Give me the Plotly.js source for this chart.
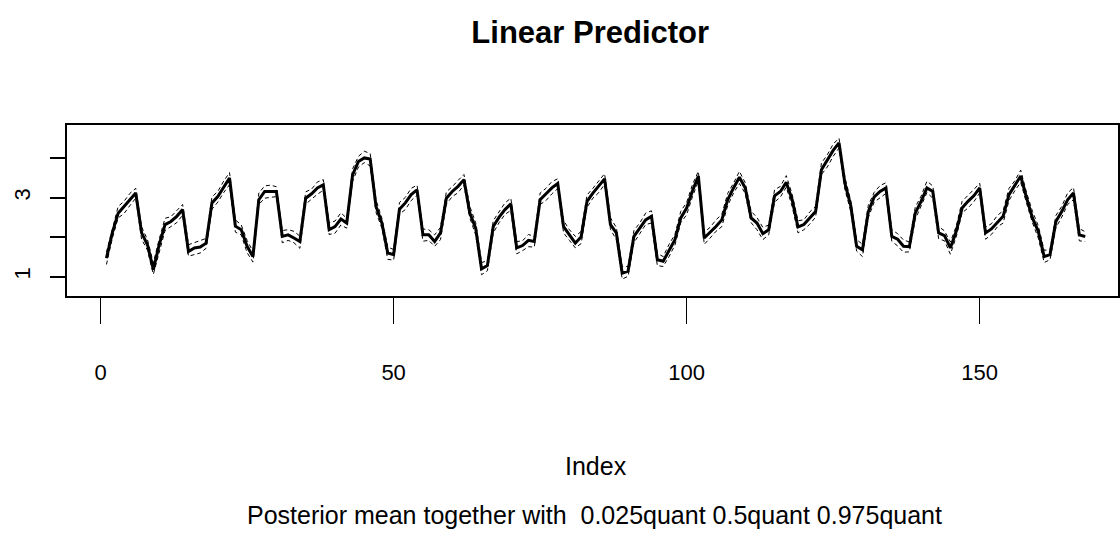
<!DOCTYPE html>
<html>
<head>
<meta charset="utf-8">
<script src="https://cdn.plot.ly/plotly-3.0.1.min.js"></script>
<style>html,body{margin:0;padding:0;background:#fff;}#chart{width:1120px;height:542px;}</style>
</head>
<body>
<div id="chart"></div>
<script>
// Posterior mean of the linear predictor
const meanVals = [
1.47,2.11,2.61,2.77,2.95,3.12,2.11,1.81,1.18,1.81,
2.32,2.40,2.53,2.70,1.64,1.73,1.75,1.85,2.87,3.03,
3.25,3.50,2.28,2.19,1.77,1.51,2.95,3.16,3.16,3.16,
2.02,2.06,1.98,1.89,2.99,3.10,3.25,3.33,2.19,2.27,
2.46,2.36,3.58,3.92,4.01,3.98,2.78,2.36,1.60,1.56,
2.71,2.87,3.08,3.20,2.06,2.06,1.89,2.11,2.99,3.16,
3.29,3.46,2.61,2.23,1.20,1.28,2.27,2.51,2.70,2.85,
1.73,1.79,1.92,1.89,2.95,3.10,3.25,3.36,2.27,2.06,
1.85,2.01,2.91,3.12,3.29,3.48,2.32,2.11,1.09,1.14,
2.02,2.23,2.44,2.53,1.43,1.39,1.67,1.94,2.49,2.74,
3.18,3.55,1.98,2.12,2.27,2.44,2.95,3.25,3.52,3.25,
2.49,2.36,2.09,2.19,3.05,3.16,3.39,2.95,2.26,2.32,
2.49,2.65,3.71,3.95,4.20,4.39,3.37,2.80,1.77,1.68,
2.65,3.02,3.16,3.25,2.02,1.95,1.77,1.76,2.61,2.91,
3.25,3.16,2.11,2.04,1.73,2.15,2.74,2.91,3.05,3.25,
2.11,2.21,2.38,2.53,3.08,3.31,3.55,3.00,2.49,2.15,
1.51,1.56,2.40,2.65,2.95,3.12,2.06,2.02
];
// 0.5 quantile (practically identical to the mean in the picture)
const q500 = meanVals.slice();
// 0.025 quantile
const q025 = [
1.31,1.97,2.49,2.60,2.80,2.99,1.95,1.67,1.06,1.64,
2.17,2.27,2.37,2.56,1.52,1.56,1.60,1.72,2.71,2.89,
3.13,3.33,2.13,2.06,1.61,1.37,2.83,2.99,3.01,3.03,
1.86,1.92,1.86,1.72,2.84,2.97,3.09,3.19,2.07,2.10,
2.31,2.23,3.42,3.78,3.89,3.81,2.63,2.23,1.44,1.42,
2.59,2.70,2.93,3.07,1.90,1.92,1.77,1.94,2.84,3.03,
3.13,3.32,2.49,2.06,1.05,1.15,2.11,2.37,2.58,2.68,
1.58,1.66,1.76,1.75,2.83,2.93,3.10,3.23,2.11,1.92,
1.73,1.84,2.76,2.99,3.13,3.34,2.20,1.94,0.94,1.01,
1.86,2.09,2.32,2.36,1.28,1.26,1.51,1.80,2.37,2.57,
3.03,3.42,1.82,1.98,2.15,2.27,2.80,3.12,3.36,3.11,
2.37,2.19,1.94,2.06,2.89,3.02,3.27,2.78,2.11,2.19,
2.33,2.51,3.59,3.78,4.05,4.26,3.21,2.66,1.65,1.51,
2.50,2.89,3.00,3.11,1.90,1.78,1.62,1.63,2.45,2.77,
3.13,2.99,1.96,1.91,1.57,2.01,2.62,2.74,2.90,3.12,
1.95,2.07,2.26,2.36,2.93,3.18,3.39,2.86,2.37,1.98,
1.36,1.43,2.24,2.51,2.83,2.95,1.91,1.89
];
// 0.975 quantile
const q975 = [
1.62,2.24,2.78,2.91,3.11,3.24,2.26,1.94,1.35,1.95,
2.48,2.52,2.68,2.83,1.81,1.87,1.91,1.97,3.02,3.16,
3.42,3.64,2.44,2.31,1.92,1.64,3.12,3.30,3.32,3.28,
2.17,2.19,2.15,2.03,3.15,3.22,3.40,3.46,2.36,2.41,
2.62,2.48,3.73,4.05,4.18,4.12,2.94,2.48,1.75,1.69,
2.88,3.01,3.24,3.32,2.21,2.19,2.06,2.25,3.15,3.28,
3.44,3.59,2.78,2.37,1.36,1.40,2.42,2.64,2.87,2.99,
1.89,1.91,2.07,2.02,3.12,3.24,3.41,3.48,2.42,2.19,
2.02,2.15,3.07,3.24,3.44,3.61,2.49,2.25,1.25,1.26,
2.17,2.36,2.61,2.67,1.59,1.51,1.82,2.07,2.66,2.88,
3.34,3.67,2.13,2.25,2.44,2.58,3.11,3.37,3.67,3.38,
2.66,2.50,2.25,2.31,3.20,3.29,3.56,3.09,2.42,2.44,
2.64,2.78,3.88,4.09,4.36,4.51,3.52,2.93,1.94,1.82,
2.81,3.14,3.31,3.38,2.19,2.09,1.93,1.88,2.76,3.04,
3.42,3.30,2.27,2.16,1.88,2.28,2.91,3.05,3.21,3.37,
2.26,2.34,2.55,2.67,3.24,3.43,3.70,3.13,2.66,2.29,
1.67,1.68,2.55,2.78,3.12,3.26,2.22,2.14
];
const xTickVals = [0, 50, 100, 150];
const xTickText = ['0', '50', '100', '150'];
const yTickVals = [1, 2, 3, 4];
const yTickText = ['1', '', '3', ''];
const titleText = 'Linear Predictor';
const xLabel = 'Index';
const subLabel = 'Posterior mean together with  0.025quant 0.5quant 0.975quant';

const idx = meanVals.map((_, i) => i + 1);
const FONT = 'Liberation Sans, Arial, sans-serif';

const dashed = {color: '#000', width: 1, dash: '4px,3px'};
const traces = [
  {x: idx, y: q025, type: 'scatter', mode: 'lines', line: dashed, hoverinfo: 'skip'},
  {x: idx, y: q500, type: 'scatter', mode: 'lines', line: dashed, hoverinfo: 'skip'},
  {x: idx, y: q975, type: 'scatter', mode: 'lines', line: dashed, hoverinfo: 'skip'},
  {x: idx, y: meanVals, type: 'scatter', mode: 'lines', line: {color: '#000', width: 3}}
];

const layout = {
  width: 1120, height: 542,
  margin: {l: 67, r: 2, t: 125, b: 246, pad: 0},
  paper_bgcolor: '#fff', plot_bgcolor: '#fff',
  showlegend: false,
  font: {family: FONT, color: '#000'},
  title: {text: titleText, x: 0.527, xanchor: 'center', y: 0.94, yanchor: 'middle',
          font: {family: FONT, size: 31, weight: 700, color: '#000'}},
  xaxis: {
    range: [-5.73, 173.6], showgrid: false, zeroline: false,
    showline: true, mirror: true, linecolor: '#000', linewidth: 2,
    tickmode: 'array', tickvals: xTickVals, ticktext: xTickText,
    ticks: 'outside', ticklen: 26, tickwidth: 1, tickcolor: '#000',
    ticklabelstandoff: 30,
    tickfont: {family: FONT, size: 22, color: '#000'}
  },
  yaxis: {
    range: [0.511, 4.844], showgrid: false, zeroline: false,
    showline: true, mirror: true, linecolor: '#000', linewidth: 2,
    tickmode: 'array', tickvals: yTickVals, ticktext: yTickText,
    ticks: 'outside', ticklen: 15, tickwidth: 2, tickcolor: '#000',
    tickangle: -90, ticklabelstandoff: 11,
    tickfont: {family: FONT, size: 22, color: '#000'}
  },
  annotations: [
    {text: xLabel, xref: 'paper', yref: 'paper', x: 0.503, y: -0.992,
     xanchor: 'center', yanchor: 'middle', showarrow: false,
     font: {family: FONT, size: 25, color: '#000'}},
    {text: subLabel, xref: 'paper', yref: 'paper', x: 0.502, y: -1.283,
     xanchor: 'center', yanchor: 'middle', showarrow: false,
     font: {family: FONT, size: 25, color: '#000'}}
  ]
};

Plotly.newPlot('chart', traces, layout, {displayModeBar: false, staticPlot: true});
</script>
</body>
</html>
